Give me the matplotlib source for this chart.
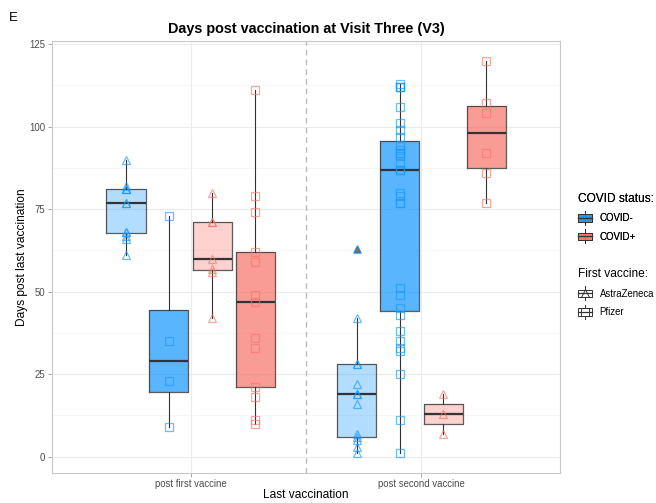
import matplotlib
matplotlib.use('Agg')
import matplotlib.pyplot as plt
from matplotlib.legend_handler import HandlerBase
from matplotlib.patches import Rectangle
from matplotlib.lines import Line2D

plt.rcParams['font.family'] = ['Liberation Sans', 'DejaVu Sans']

# x categories
visits = ['post first vaccine', 'post second vaccine']
status = ['COVID-', 'COVID+']
vaccines = ['AstraZeneca', 'Pfizer']

# days post last vaccination, by visit / status / first vaccine
first_neg_az = [90, 82, 81, 81, 81, 77, 77, 68, 68, 67, 66, 61]
first_neg_pf = [73, 35, 23, 9]
first_pos_az = [80, 71, 71, 60, 57, 56, 42]
first_pos_pf = [111, 79, 74, 62, 59, 49, 47, 36, 33, 21, 18, 11, 10]
second_neg_az = [63, 42, 28, 28, 22, 19, 19, 16, 7, 6, 5, 3, 1]
second_neg_pf = [113, 112, 112, 112, 106, 101, 99, 97, 94, 93, 92, 92, 91, 89,
                 87, 87, 80, 79, 77, 77, 51, 49, 45, 43, 38, 35, 33, 32, 25, 11, 1]
second_pos_az = [19, 13, 7]
second_pos_pf = [120, 107, 104, 92, 86, 77]

series = [
    (0, 'COVID-', 'AstraZeneca', first_neg_az),
    (0, 'COVID-', 'Pfizer', first_neg_pf),
    (0, 'COVID+', 'AstraZeneca', first_pos_az),
    (0, 'COVID+', 'Pfizer', first_pos_pf),
    (1, 'COVID-', 'AstraZeneca', second_neg_az),
    (1, 'COVID-', 'Pfizer', second_neg_pf),
    (1, 'COVID+', 'AstraZeneca', second_pos_az),
    (1, 'COVID+', 'Pfizer', second_pos_pf),
]

colors = {'COVID-': '#1A99FF', 'COVID+': '#F8766D'}
alphas = {'AstraZeneca': 0.33, 'Pfizer': 0.72}
markers = {'AstraZeneca': '^', 'Pfizer': 's'}
offsets = [-0.28, -0.094, 0.094, 0.28]
edge = '#333333'

fig = plt.figure(figsize=(6.56, 5.03), dpi=100)
ax = fig.add_axes([0.0793, 0.0596, 0.7744, 0.859])

for i, (v, st, vac, vals) in enumerate(series):
    pos = v + 1 + offsets[i % 4]
    bp = ax.boxplot([vals], positions=[pos], widths=0.17, patch_artist=True,
                    showcaps=False, whis=1.5, manage_ticks=False,
                    boxprops=dict(facecolor=colors[st], alpha=alphas[vac], edgecolor='none'),
                    medianprops=dict(color=edge, lw=1.6),
                    whiskerprops=dict(color=edge, lw=0.8),
                    flierprops=dict(marker=markers[vac], markerfacecolor='#555555',
                                    markeredgecolor='#555555', markersize=5, alpha=0.8),
                    zorder=2)
    # box outline drawn on top of the translucent fill
    for b in bp['boxes']:
        path = b.get_path().vertices
        ax.plot(path[:, 0], path[:, 1], color=edge, lw=0.9, alpha=0.8, zorder=3)
    ax.plot([pos] * len(vals), vals, ls='none', marker=markers[vac], mfc='none',
            mec=colors[st], mew=0.9, ms=5.5, alpha=0.65, zorder=4)

ax.axvline(1.5, color='#BBBBBB', lw=1, ls=(0, (4, 3)), zorder=1)

ax.set_xlim(0.4, 2.6)
ax.set_ylim(-4.95, 125.95)
ax.set_xticks([1, 2])
ax.set_xticklabels(visits)
ax.set_yticks([0, 25, 50, 75, 100, 125])
ax.set_yticks([12.5, 37.5, 62.5, 87.5, 112.5], minor=True)
ax.grid(True, which='major', color='#EBEBEB', lw=0.8, zorder=0)
ax.grid(True, which='minor', axis='y', color='#F3F3F3', lw=0.5, zorder=0)
ax.set_axisbelow(True)
for sp in ax.spines.values():
    sp.set_color('#C8C8C8')
    sp.set_linewidth(0.8)
ax.tick_params(axis='both', which='major', colors='#999999', labelcolor='#4D4D4D',
               labelsize=6.9, length=3, width=0.6, pad=2)
ax.tick_params(axis='x', which='major', pad=1.5)
ax.tick_params(axis='y', which='minor', length=0)

ax.set_xlabel('Last vaccination', fontsize=8.6, labelpad=-0.5)
ax.set_ylabel('Days post last vaccination', fontsize=8.6, labelpad=1)
ax.set_title('Days post vaccination at Visit Three (V3)', fontsize=10.4,
             fontweight='bold', pad=6)
fig.text(0.013, 0.964, 'E', fontsize=9.5, va='center')


class BoxProxy(object):
    def __init__(self, face, alpha, marker=None):
        self.face = face
        self.alpha = alpha
        self.marker = marker


class BoxKey(HandlerBase):
    def create_artists(self, legend, orig_handle, xdescent, ydescent, width,
                       height, fontsize, trans):
        x0, y0 = -xdescent, -ydescent
        cx = x0 + width / 2
        cy = y0 + height / 2
        out = [Line2D([cx, cx], [y0 - 0.2 * height, y0 + 1.2 * height],
                      color=edge, lw=0.7, transform=trans),
               Rectangle((x0, y0 + 0.12 * height), width, 0.76 * height,
                         facecolor=orig_handle.face, alpha=orig_handle.alpha,
                         edgecolor='none', transform=trans),
               Rectangle((x0, y0 + 0.12 * height), width, 0.76 * height,
                         facecolor='none', edgecolor=edge, lw=0.7, transform=trans),
               Line2D([x0, x0 + width], [cy, cy], color=edge, lw=0.9, transform=trans)]
        if orig_handle.marker:
            out.append(Line2D([cx], [cy], ls='none', marker=orig_handle.marker,
                              mfc='none', mec=edge, mew=0.7, ms=6, transform=trans))
        return out


h1 = [BoxProxy(colors[s], 0.9) for s in status]
leg1 = fig.legend(h1, status, handler_map={BoxProxy: BoxKey()},
                  title='COVID status:', loc='upper left',
                  bbox_to_anchor=(0.868, 0.634), frameon=False, fontsize=6.9,
                  title_fontsize=8.6, handlelength=1.45, handleheight=1.25,
                  labelspacing=0.85, alignment='left', handletextpad=0.8)
h2 = [BoxProxy('white', 1.0, markers[v]) for v in vaccines]
leg2 = fig.legend(h2, vaccines, handler_map={BoxProxy: BoxKey()},
                  title='First vaccine:', loc='upper left',
                  bbox_to_anchor=(0.868, 0.484), frameon=False, fontsize=6.9,
                  title_fontsize=8.6, handlelength=1.45, handleheight=1.25,
                  labelspacing=0.85, alignment='left', handletextpad=0.8)
fig.add_artist(leg1)

fig.savefig('out.png', dpi=100)
